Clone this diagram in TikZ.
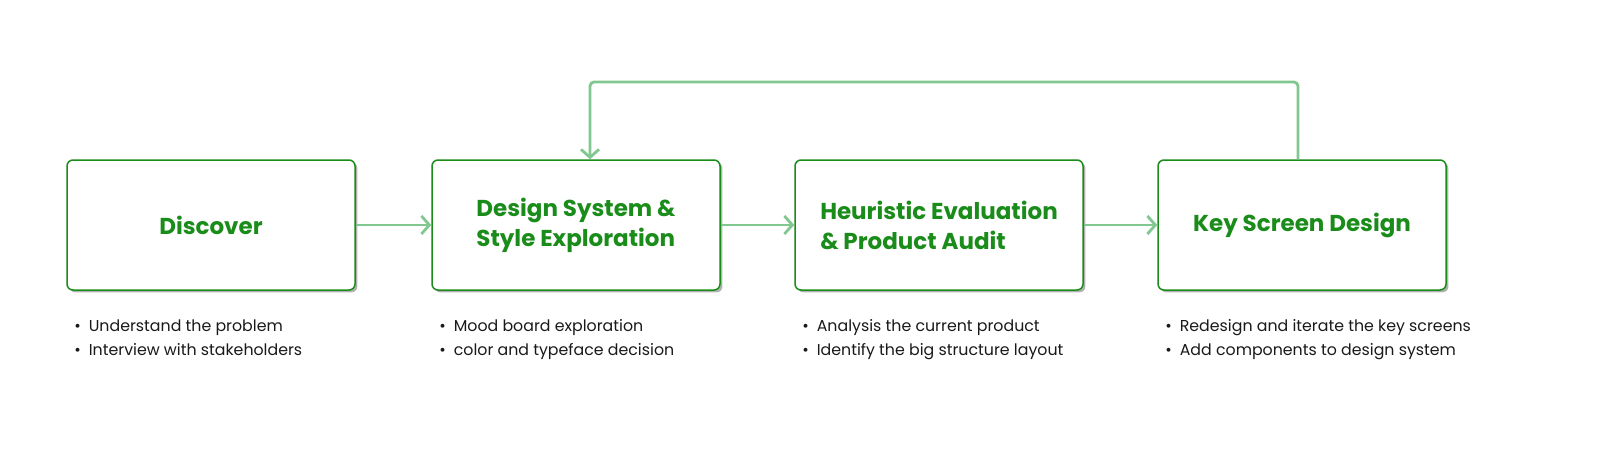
\documentclass[tikz,border=0pt]{standalone}
\usepackage{fontspec}
\setmainfont{Poppins}
\usetikzlibrary{arrows.meta,positioning,shadows}
\definecolor{stepgreen}{HTML}{1A8C1A}
\definecolor{flowgreen}{HTML}{80C890}
\begin{document}
\begin{tikzpicture}
        [x=0.5pt, y=-0.5pt,
        phase/.style={draw=stepgreen, line width=0.75pt, rounded corners=3pt, fill=white,
            minimum width=144pt, minimum height=65pt, inner sep=0pt,
            font=\fontsize{11.5}{15}\selectfont\bfseries, text=stepgreen, align=left,
            drop shadow={shadow xshift=1.2pt, shadow yshift=-1.2pt, fill=black!30, opacity=1}},
        notes/.style={anchor=north west, align=left, inner sep=0pt,
            font=\fontsize{7.9}{12}\selectfont, text=black!90},
        flow/.style={draw=flowgreen, line width=1.4pt, -{Straight Barb[length=4pt, width=9pt]}}]
        \useasboundingbox (0,0) rectangle (1600,455);

        \node[phase] (discover) at (211,225) {Discover};
        \node[phase] (style) at (576,225) {Design System \&\\Style Exploration};
        \node[phase] (audit) at (939,225) {Heuristic Evaluation\\\& Product Audit};
        \node[phase] (screens) at (1302,225) {Key Screen Design};

        % bullet notes under each step
        \node[notes] (n1) at (74,319) {•\enspace Understand the problem\\•\enspace Interview with stakeholders};
        \node[notes] (n2) at (439,319) {•\enspace Mood board exploration\\•\enspace color and typeface decision};
        \node[notes] (n3) at (802,319) {•\enspace Analysis the current product\\•\enspace Identify the big structure layout};
        \node[notes] (n4) at (1165,319) {•\enspace Redesign and iterate the key screens\\•\enspace Add components to design system};

        % flow between steps
        \draw[flow] (discover) -- (style);
        \draw[flow] (style) -- (audit);
        \draw[flow] (audit) -- (screens);

        % loop back
        \coordinate (up) at (1298,82);
        \coordinate (over) at (590,82);
        \draw[flow, rounded corners=2pt] (screens.north -| up) -- (up) -- (over) -- (style.north -| over);
\end{tikzpicture}
\end{document}
